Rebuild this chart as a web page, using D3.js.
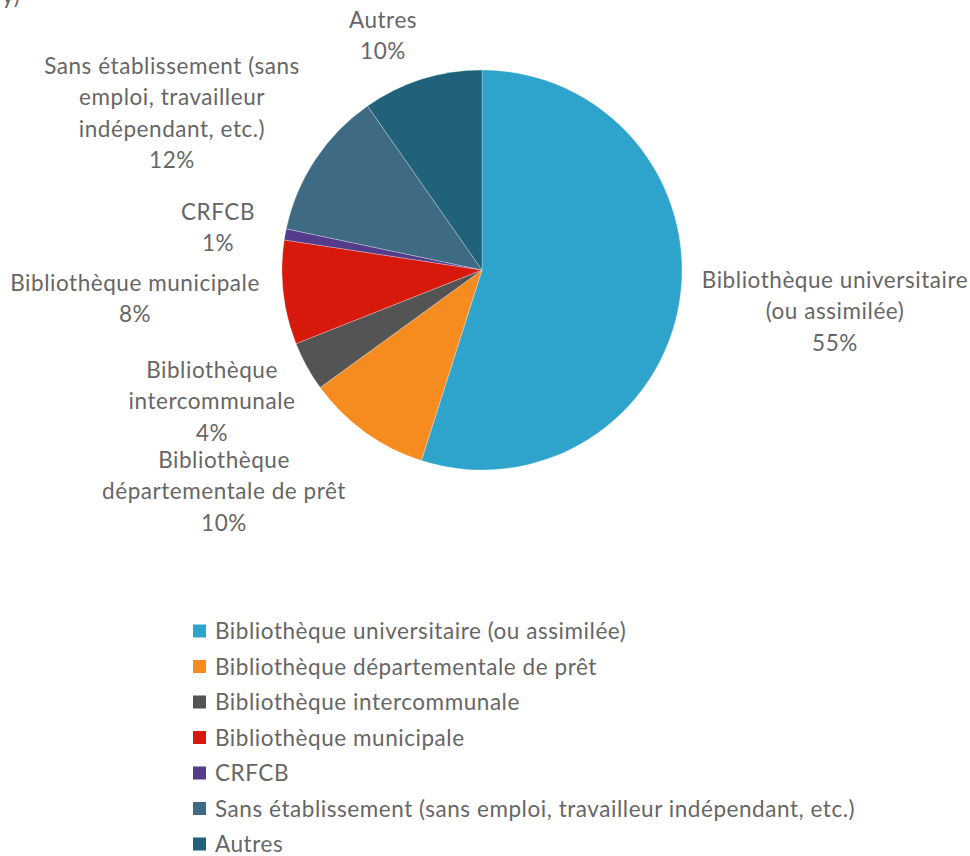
<!DOCTYPE html>
<html>
<head>
<meta charset="utf-8">
<script src="https://cdn.jsdelivr.net/npm/d3@7"></script>
<style>
  body { margin: 0; background: #fff; }
  svg { display: block; }
  text { font-family: Lato, "Open Sans", sans-serif; fill: #666666; letter-spacing: 0.55px; }
</style>
</head>
<body>
<div id="chart"></div>
<script>
// data
const categories = [
  "Bibliothèque universitaire (ou assimilée)",
  "Bibliothèque départementale de prêt",
  "Bibliothèque intercommunale",
  "Bibliothèque municipale",
  "CRFCB",
  "Sans établissement (sans emploi, travailleur indépendant, etc.)",
  "Autres"
];
const values = [54.9, 10.1, 4.0, 8.4, 0.9, 12.0, 9.7];
const colors = ["#2ea3cc", "#f68b1f", "#545454", "#d7190b", "#553c8b", "#3f6a83", "#1f6279"];
// wrapped label lines for the data labels
const labelLines = [
  ["Bibliothèque universitaire", "(ou assimilée)"],
  ["Bibliothèque", "départementale de prêt"],
  ["Bibliothèque", "intercommunale"],
  ["Bibliothèque municipale"],
  ["CRFCB"],
  ["Sans établissement (sans", "emploi, travailleur", "indépendant, etc.)"],
  ["Autres"]
];
// label block centres (x, y of first line)
const labelPos = [[835, 280], [224, 460], [212, 370], [135, 283], [218, 212], [172, 66], [383, 20]];

const w = 970, h = 856;
const cx = 482, cy = 270, r = 200;
const lineH = 31.3;
const fs = 22.5;

const svg = d3.select("#chart").append("svg")
    .attr("width", w)
    .attr("height", h);

// cut-off text remnant at the top-left corner
svg.append("text").attr("x", 2).attr("y", 4).attr("font-size", fs).text("y)");

const pie = d3.pie().sort(null).value(d => d);
const arc = d3.arc().innerRadius(0).outerRadius(r);
const arcs = pie(values);

const g = svg.append("g").attr("transform", `translate(${cx},${cy})`);
g.selectAll("path")
  .data(arcs)
  .enter()
  .append("path")
  .attr("d", arc)
  .attr("fill", (d, i) => colors[i])
  .attr("stroke", "#ffffff")
  .attr("stroke-opacity", 0.35)
  .attr("stroke-width", 0.8);

// data labels
const total = d3.sum(values);
const labels = svg.selectAll("text.lbl")
  .data(arcs)
  .enter()
  .append("text")
  .attr("class", "lbl")
  .attr("text-anchor", "middle")
  .attr("font-size", fs);
labels.each(function(d, i) {
  const t = d3.select(this);
  const lines = labelLines[i].concat([Math.round(d.value / total * 100) + "%"]);
  lines.forEach((s, k) => {
    t.append("tspan")
      .attr("x", labelPos[i][0])
      .attr("y", labelPos[i][1] + k * lineH + 8)
      .text(s);
  });
});

// legend
const legendY = d3.scaleLinear().domain([0, categories.length - 1]).range([631, 844]);
const lg = svg.selectAll("g.leg")
  .data(categories)
  .enter()
  .append("g")
  .attr("class", "leg")
  .attr("transform", (d, i) => `translate(193,${legendY(i)})`);
lg.append("rect")
  .attr("x", 0).attr("y", -6.5)
  .attr("width", 13).attr("height", 13)
  .attr("fill", (d, i) => colors[i]);
lg.append("text")
  .attr("x", 22).attr("y", 8)
  .attr("font-size", fs)
  .text(d => d);
</script>
</body>
</html>
